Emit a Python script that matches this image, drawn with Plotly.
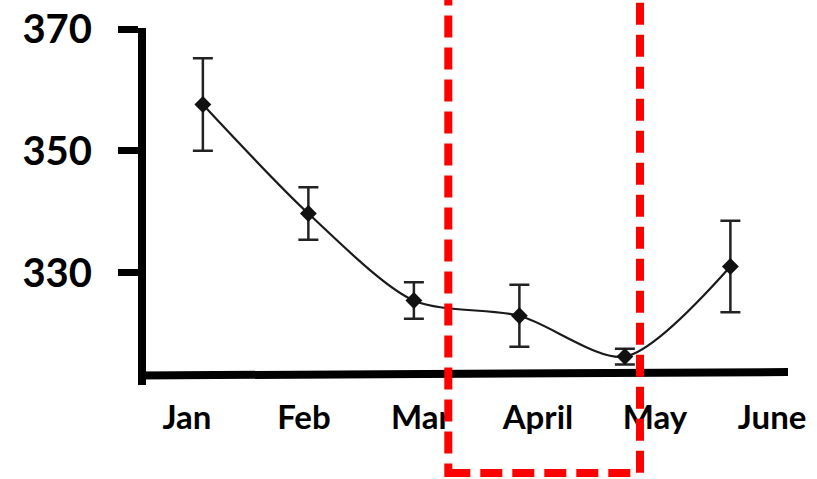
import plotly.graph_objects as go

months = ["Jan", "Feb", "Mar", "April", "May", "June"]
values = [357.6, 339.7, 325.4, 322.9, 316.2, 331.0]
errors = [7.6, 4.3, 3.0, 5.1, 1.3, 7.5]
y_ticks = [330, 350, 370]

W, H = 817, 479
L, R, T, B = 146, 27, 28, 94
pw, ph = W - L - R, H - T - B

def px(x):
    return (x - L) / pw

def py(y):
    return (H - B - y) / ph

fig = go.Figure()
fig.add_trace(go.Scatter(
    x=months, y=values, mode="lines+markers",
    line=dict(color="#1a1a1a", width=2.2, shape="spline", smoothing=0.8),
    marker=dict(symbol="diamond", size=13, color="#111111"),
    error_y=dict(type="data", array=errors, visible=True, color="#222222", thickness=2.5, width=10),
    showlegend=False, xaxis="x", yaxis="y",
))
# invisible trace carrying the month labels on the label axis
fig.add_trace(go.Scatter(
    x=months, y=values, mode="markers", marker=dict(opacity=0),
    showlegend=False, hoverinfo="skip", xaxis="x2", yaxis="y",
))

bold = dict(family="Lato, 'Open Sans', sans-serif", color="black", weight="bold")

fig.update_layout(
    width=W, height=H,
    margin=dict(l=L, r=R, t=T, b=B, autoexpand=False),
    paper_bgcolor="white", plot_bgcolor="white",
    xaxis=dict(type="category", range=[-0.539, 5.565], showticklabels=False, automargin=False,
               showgrid=False, zeroline=False, showline=False, ticks=""),
    xaxis2=dict(type="category", overlaying="x", side="bottom", anchor="y", automargin=False,
                range=[-0.349, 5.153], showgrid=False, zeroline=False, showline=False,
                ticks="", tickfont=dict(size=33, **bold), ticklabelstandoff=10),
    yaxis=dict(range=[311.53, 370.18], tickvals=y_ticks, ticktext=[str(v) for v in y_ticks],
               automargin=False,
               showgrid=False, zeroline=False, showline=True, linecolor="black", linewidth=8,
               ticks="outside", ticklen=20, tickwidth=7, tickcolor="black",
               tickfont=dict(size=40, **bold), ticklabelstandoff=18),
    shapes=[
        dict(type="line", xref="paper", yref="paper",
             x0=px(138), x1=px(788), y0=py(375.5), y1=py(372),
             line=dict(color="black", width=8), layer="above"),
        dict(type="rect", xref="paper", yref="paper",
             x0=px(448.3), x1=px(640), y0=py(473), y1=py(-12),
             line=dict(color="#ff0000", width=8, dash="22px,10px"),
             fillcolor="rgba(0,0,0,0)", layer="above"),
    ],
)

fig.write_html("out.html", config={"displayModeBar": False},
               post_script="document.body.style.margin='0';document.body.style.overflow='hidden';")
